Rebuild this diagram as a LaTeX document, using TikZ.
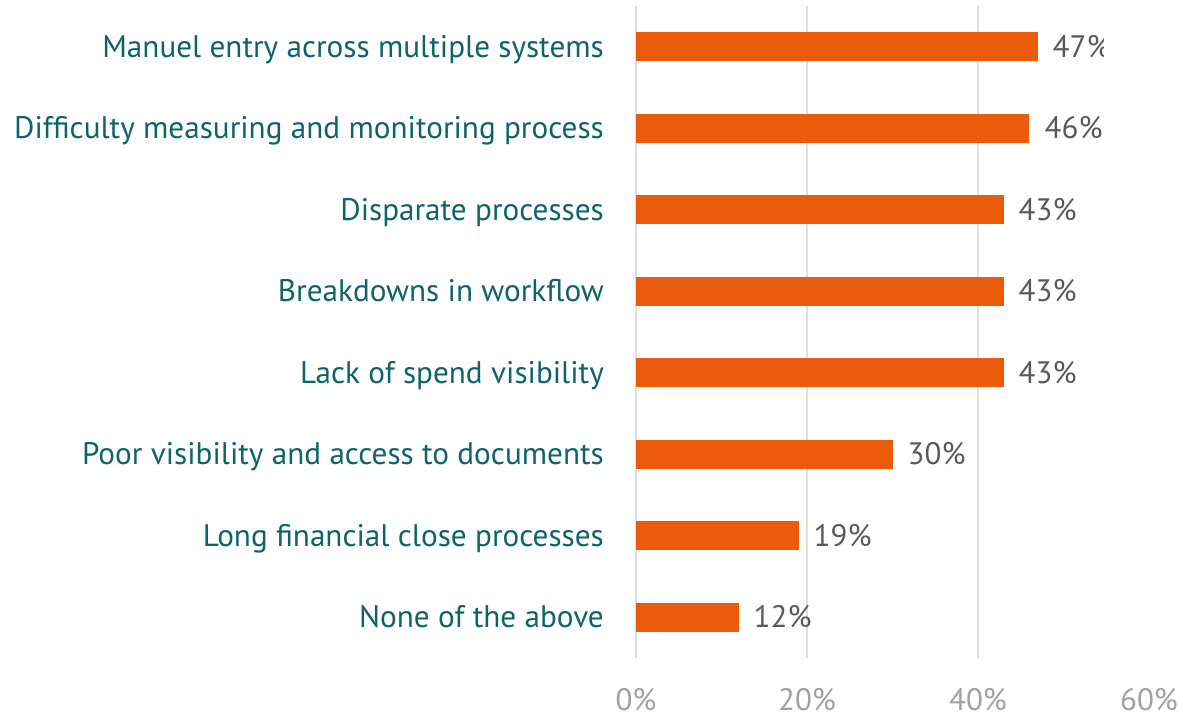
\documentclass[tikz,border=0pt]{standalone}
\usepackage{fontspec}
\setmainfont{PT Sans}
\definecolor{barorange}{RGB}{234,91,12}
\definecolor{labelteal}{RGB}{14,99,107}
\definecolor{valuegray}{RGB}{89,89,89}
\definecolor{axisgray}{RGB}{160,160,160}
\definecolor{gridgray}{RGB}{222,222,222}
\tikzset{
  catlabel/.style={anchor=base east,inner sep=0pt,text=labelteal,font=\fontsize{31.2}{36}\selectfont},
  vallabel/.style={anchor=base west,inner sep=0pt,text=valuegray,font=\fontsize{31}{36}\selectfont},
  axislabel/.style={anchor=base,inner sep=0pt,text=axisgray,font=\fontsize{31}{36}\selectfont},
  gridline/.style={draw=gridgray,line width=2pt},
  barfill/.style={fill=barorange}
}
\begin{document}
\begin{tikzpicture}[x=1pt,y=-1pt]
          \useasboundingbox (0,0) rectangle (1183,715);

          \draw[gridline] (636,6) -- (636,658);
          \draw[gridline] (807,6) -- (807,658);
          \draw[gridline] (978,6) -- (978,658);

          \fill[barfill] (636,32) rectangle (1037.9,61);
          \fill[barfill] (636,113.5) rectangle (1029.3,142.5);
          \fill[barfill] (636,195) rectangle (1003.7,224);
          \fill[barfill] (636,276.5) rectangle (1003.7,305.5);
          \fill[barfill] (636,358) rectangle (1003.7,387);
          \fill[barfill] (636,439.5) rectangle (892.5,468.5);
          \fill[barfill] (636,521) rectangle (798.5,550);
          \fill[barfill] (636,602.5) rectangle (738.6,631.5);

          \node[catlabel] (manual) at (604,57) {Manuel entry across multiple systems};
          \node[catlabel] (difficulty) at (604,138.5) {Difficulty measuring and monitoring process};
          \node[catlabel] (disparate) at (604,220) {Disparate processes};
          \node[catlabel] (breakdowns) at (604,301.5) {Breakdowns in workflow};
          \node[catlabel] (spend) at (604,383) {Lack of spend visibility};
          \node[catlabel] (documents) at (604,464.5) {Poor visibility and access to documents};
          \node[catlabel] (close) at (604,546) {Long financial close processes};
          \node[catlabel] (none) at (604,627.5) {None of the above};

          \begin{scope}
            \clip (0,0) rectangle (1103,715);
            \node[vallabel] (v47) at (1052.5,57) {47\%};
          \end{scope}
          \node[vallabel] (v46) at (1044.5,138.5) {46\%};
          \node[vallabel] (v43a) at (1018.5,220) {43\%};
          \node[vallabel] (v43b) at (1018.5,301.5) {43\%};
          \node[vallabel] (v43c) at (1018.5,383) {43\%};
          \node[vallabel] (v30) at (907.5,464.5) {30\%};
          \node[vallabel] (v19) at (813.5,546) {19\%};
          \node[vallabel] (v12) at (753.5,627.5) {12\%};

          \node[axislabel] (x0) at (636,710) {0\%};
          \node[axislabel] (x20) at (807,710) {20\%};
          \node[axislabel] (x40) at (978,710) {40\%};
          \node[axislabel] (x60) at (1149,710) {60\%};
        \end{tikzpicture}
\end{document}
